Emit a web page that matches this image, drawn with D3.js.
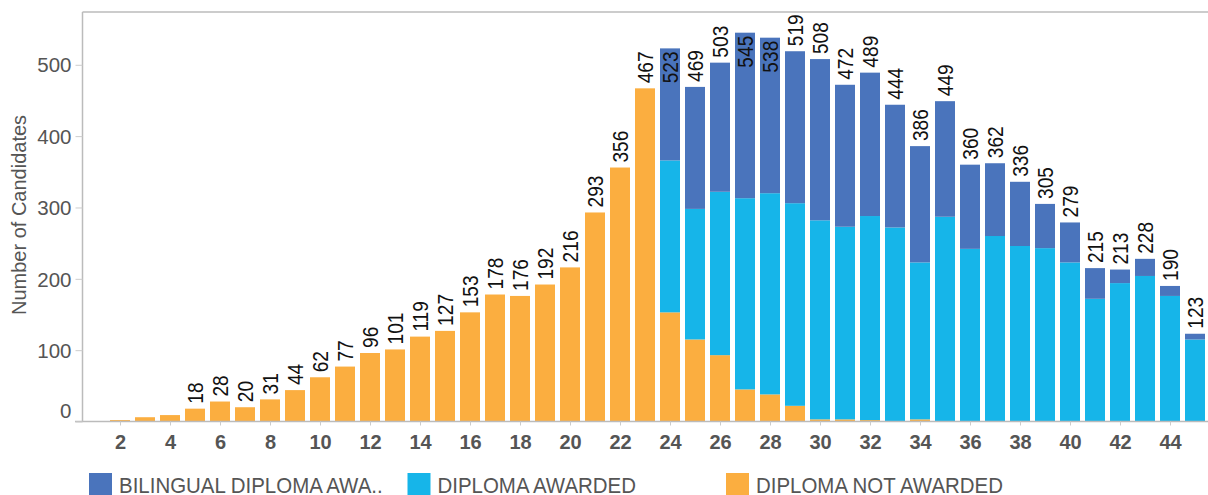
<!DOCTYPE html>
<html>
<head>
<meta charset="utf-8">
<script src="https://cdn.jsdelivr.net/npm/d3@7"></script>
<style>
  body { margin: 0; background: #fff; }
  svg { display: block; font-family: "Liberation Sans", Arial, sans-serif; }
</style>
</head>
<body>
<svg id="chart" width="1208" height="495"></svg>
<script>
// categories (score) and the three stacked series
const categories = [2, 3, 4, 5, 6, 7, 8, 9, 10, 11, 12, 13, 14, 15, 16, 17, 18, 19, 20, 21, 22, 23,
  24, 25, 26, 27, 28, 29, 30, 31, 32, 33, 34, 35, 36, 37, 38, 39, 40, 41, 42, 43, 44, 45];
const notAwarded = [2, 6, 9, 18, 28, 20, 31, 44, 62, 77, 96, 101, 119, 127, 153, 178, 176, 192, 216, 293, 356, 467,
  153, 115, 93, 45, 38, 22, 3, 3, 2, 0, 3, 0, 0, 0, 0, 0, 0, 0, 0, 0, 0, 0];
const awarded = [0, 0, 0, 0, 0, 0, 0, 0, 0, 0, 0, 0, 0, 0, 0, 0, 0, 0, 0, 0, 0, 0,
  213, 183, 229, 268, 282, 284, 279, 270, 286, 272, 220, 287, 242, 260, 246, 243, 223, 172, 194, 204, 176, 115];
const bilingual = [0, 0, 0, 0, 0, 0, 0, 0, 0, 0, 0, 0, 0, 0, 0, 0, 0, 0, 0, 0, 0, 0,
  157, 171, 181, 232, 218, 213, 226, 199, 201, 172, 163, 162, 118, 102, 90, 62, 56, 43, 19, 24, 14, 8];

const xTicks = [2, 4, 6, 8, 10, 12, 14, 16, 18, 20, 22, 24, 26, 28, 30, 32, 34, 36, 38, 40, 42, 44];
const yTicks = [0, 100, 200, 300, 400, 500];

const seriesKeys = ["bilingual", "awarded", "notAwarded"];
const seriesNames = ["BILINGUAL DIPLOMA AWA..", "DIPLOMA AWARDED", "DIPLOMA NOT AWARDED"];
const colors = { bilingual: "#4a74bc", awarded: "#16b5e9", notAwarded: "#fbae40" };

const svg = d3.select("#chart");
const W = +svg.attr("width");

const plotLeft = 82.5, plotTop = 12, plotBottom = 421.5, plotRight = W;

// table built from the arrays
const rows = categories.map((c, i) => ({
  cat: c,
  notAwarded: notAwarded[i],
  awarded: awarded[i],
  bilingual: bilingual[i],
  total: notAwarded[i] + awarded[i] + bilingual[i]
}));

const x = d3.scaleLinear().domain([0.5, 45.5]).range([plotLeft, plotLeft + 1125]);
const y = d3.scaleLinear().domain([0, 574]).range([plotBottom, plotTop]);
const barW = (x(1) - x(0)) * 0.8;

const stack = d3.stack().keys(["notAwarded", "awarded", "bilingual"]);
const layers = stack(rows);

// bars
svg.append("g")
  .selectAll("g")
  .data(layers)
  .join("g")
  .attr("fill", d => colors[d.key])
  .selectAll("rect")
  .data(d => d.filter(p => p[1] > p[0]))
  .join("rect")
  .attr("x", d => x(d.data.cat) - barW / 2)
  .attr("width", barW)
  .attr("y", d => y(d[1]))
  .attr("height", d => y(d[0]) - y(d[1]));

// axis lines / frame
svg.append("line").attr("x1", plotLeft).attr("x2", plotRight).attr("y1", plotTop).attr("y2", plotTop)
  .attr("stroke", "#bbb").attr("stroke-width", 1.5);
svg.append("line").attr("x1", plotLeft).attr("x2", plotLeft).attr("y1", plotTop).attr("y2", plotBottom)
  .attr("stroke", "#bbb").attr("stroke-width", 1.5);
svg.append("line").attr("x1", 75).attr("x2", plotRight).attr("y1", plotBottom).attr("y2", plotBottom)
  .attr("stroke", "#bbb").attr("stroke-width", 1.5);

// y axis
const yAxis = svg.append("g")
  .attr("transform", `translate(${plotLeft},0)`)
  .call(d3.axisLeft(y).tickValues(yTicks).tickSize(7).tickPadding(4));
yAxis.select(".domain").remove();
yAxis.selectAll(".tick line").attr("stroke", "#ccc");
yAxis.selectAll(".tick text")
  .attr("fill", "#555")
  .style("font-size", "20.5px")
  .attr("dy", d => d === 0 ? "-0.2em" : "0.35em");

// x axis
const xAxis = svg.append("g")
  .attr("transform", `translate(0,${plotBottom})`)
  .call(d3.axisBottom(x).tickValues(xTicks).tickSize(4).tickPadding(9));
xAxis.select(".domain").remove();
xAxis.selectAll(".tick line").attr("stroke", "#ccc");
xAxis.selectAll(".tick text")
  .attr("fill", "#555")
  .style("font-size", "20px")
  .style("font-weight", "bold");

// y title
svg.append("text")
  .attr("transform", "translate(26,215) rotate(-90)")
  .attr("text-anchor", "middle")
  .attr("fill", "#555")
  .style("font-size", "20px")
  .text("Number of Candidates");

// value labels on top of the stacks
const labelScale = 0.87;
svg.append("g")
  .selectAll("text")
  .data(rows.filter(d => d.total >= 10))
  .join("text")
  .style("font-size", "22px")
  .attr("fill", "#111")
  .attr("dominant-baseline", "central")
  .text(d => d.total)
  .each(function(d) {
    const len = this.getComputedTextLength() * labelScale;
    const barTop = y(d.total);
    let start = barTop - 5;
    if (start - len < plotTop + 1) start = barTop + 3 + len;  // no room above: put it inside
    d3.select(this).attr("transform",
      `translate(${x(d.cat)},${start}) rotate(-90) scale(${labelScale},1)`);
  });

// legend
const legend = svg.append("g")
  .selectAll("g")
  .data(seriesKeys)
  .join("g")
  .attr("transform", (d, i) => `translate(${89 + i * 318.5},473)`);
legend.append("rect").attr("width", 23).attr("height", 22).attr("fill", d => colors[d]);
legend.append("text")
  .attr("transform", "translate(30,20) scale(0.93,1)")
  .attr("fill", "#555")
  .style("font-size", "22px")
  .text((d, i) => seriesNames[i]);
</script>
</body>
</html>
